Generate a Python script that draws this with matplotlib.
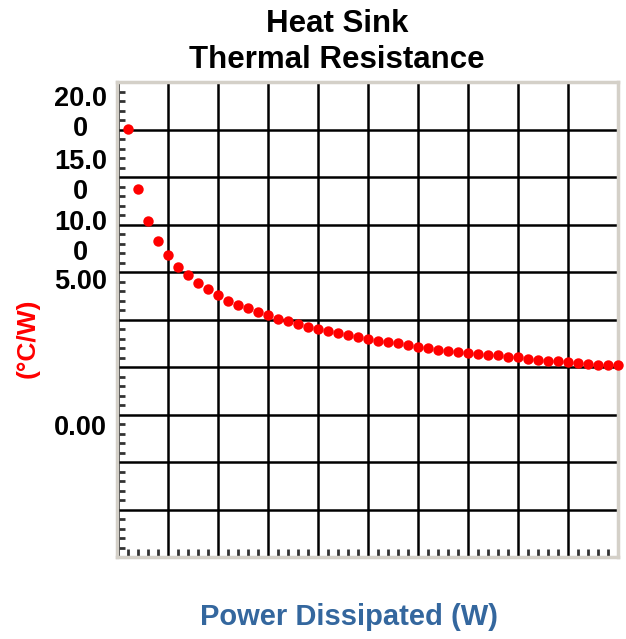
import matplotlib
matplotlib.use("Agg")
import matplotlib.pyplot as plt
from matplotlib.ticker import MultipleLocator

plt.rcParams['font.family'] = ['Liberation Sans', 'DejaVu Sans']

# power steps (W) and thermal resistance readings (chart units)
power = list(range(1, 51))
resistance = [22.53, 19.37, 17.68, 16.63, 15.89, 15.26, 14.84, 14.42, 14.11, 13.79,
              13.47, 13.26, 13.11, 12.87, 12.74, 12.53, 12.42, 12.26, 12.11, 12.00,
              11.89, 11.79, 11.68, 11.58, 11.47, 11.37, 11.34, 11.24, 11.16, 11.03,
              11.00, 10.92, 10.82, 10.79, 10.74, 10.71, 10.63, 10.63, 10.55, 10.55,
              10.42, 10.39, 10.32, 10.29, 10.26, 10.21, 10.18, 10.11, 10.11, 10.08]

# the y tick labels as they appear (wrapped) and where they sit
ytick_labels = ["20.0\n0", "15.0\n0", "10.0\n0", "5.00", "0.00"]
ytick_pos = [23.3, 20.0, 16.8, 14.47, 6.79]

fig = plt.figure(figsize=(6.26, 6.39), dpi=100)
ax = fig.add_axes([117 / 626, 1 - 557 / 639, 501 / 626, 475 / 639])

ax.plot(power, resistance, 'o', color='#ff0000', markersize=7.5,
        markeredgewidth=0, zorder=3, clip_on=False)

ax.set_xlim(-0.1, 50.0)
ax.set_ylim(0, 25)
ax.xaxis.set_major_locator(MultipleLocator(5))
ax.xaxis.set_minor_locator(MultipleLocator(1))
ax.yaxis.set_major_locator(MultipleLocator(2.5))
ax.yaxis.set_minor_locator(MultipleLocator(0.5))
ax.grid(True, which='major', color='black', linewidth=1.8)
ax.tick_params(which='major', length=0, labelbottom=False, labelleft=False)
ax.tick_params(which='minor', direction='in', length=5.5, width=2,
               color='#333333', top=False, right=False)

for s in ax.spines.values():
    s.set_color('#d4d0c8')
    s.set_linewidth(2.5)

for lab, pos in zip(ytick_labels, ytick_pos):
    ax.text(-0.073, pos, lab, transform=ax.get_yaxis_transform(),
            ha='center', va='center', multialignment='center',
            fontsize=19.5, fontweight='bold', color='black', linespacing=1.2)

fig.text(337 / 626, 1 - 42 / 639, "Heat Sink\nThermal Resistance",
         ha='center', va='center', fontsize=22.5, fontweight='bold',
         linespacing=1.25)
fig.text(28 / 626, 1 - 338 / 639, "(°C/W)", rotation=90, ha='center',
         va='center', fontsize=19, fontweight='bold', color='#ff0000')
fig.text(349 / 626, 1 - 617 / 639, "Power Dissipated (W)", ha='center',
         va='center', fontsize=21, fontweight='bold', color='#34679e')

fig.savefig("out.png", dpi=100)
